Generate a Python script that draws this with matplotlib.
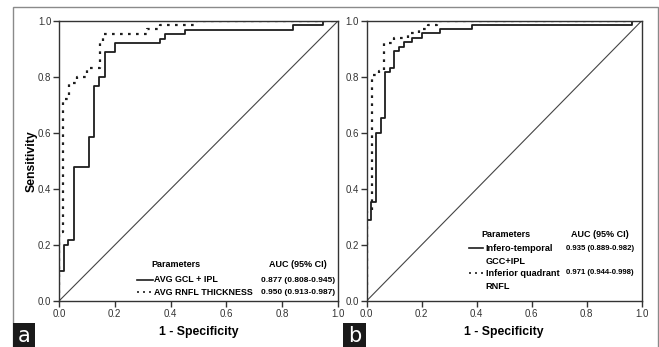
import matplotlib.pyplot as plt
from matplotlib.lines import Line2D
from matplotlib.patches import Rectangle

plt.rcParams['font.family'] = ['Liberation Sans Narrow', 'Liberation Sans', 'DejaVu Sans']

# ROC corner points (x where the step rises, y at the top of the rise)
a_gcl_x = [0, 0, 0.019, 0.033, 0.054, 0.109, 0.127, 0.144, 0.165, 0.2, 0.362, 0.38, 0.452, 0.84, 0.946, 1.0]
a_gcl_y = [0, 0.108, 0.2, 0.218, 0.48, 0.585, 0.768, 0.80, 0.89, 0.923, 0.935, 0.952, 0.968, 0.985, 1.0, 1.0]
a_rnfl_x = [0, 0, 0.016, 0.037, 0.065, 0.099, 0.147, 0.159, 0.314, 0.362, 0.49, 1.0]
a_rnfl_y = [0, 0.248, 0.72, 0.778, 0.80, 0.831, 0.926, 0.955, 0.97, 0.986, 1.0, 1.0]

b_gcc_x = [0, 0, 0.018, 0.035, 0.053, 0.068, 0.086, 0.1, 0.117, 0.135, 0.167, 0.201, 0.268, 0.383, 0.965, 1.0]
b_gcc_y = [0, 0.29, 0.355, 0.601, 0.652, 0.819, 0.833, 0.893, 0.908, 0.924, 0.94, 0.956, 0.97, 0.986, 1.0, 1.0]
b_rnfl_x = [0, 0, 0.02, 0.045, 0.064, 0.1, 0.15, 0.19, 0.225, 0.256, 1.0]
b_rnfl_y = [0, 0.32, 0.807, 0.822, 0.922, 0.938, 0.956, 0.97, 0.986, 1.0, 1.0]

ticks = [0.0, 0.2, 0.4, 0.6, 0.8, 1.0]
tick_labels = ['0.0', '0.2', '0.4', '0.6', '0.8', '1.0']

a_names = ['AVG GCL + IPL', 'AVG RNFL THICKNESS']
a_auc = ['0.877 (0.808-0.945)', '0.950 (0.913-0.987)']
b_names = [('Infero-temporal', 'GCC+IPL'), ('Inferior quadrant', 'RNFL')]
b_auc = ['0.935 (0.889-0.982)', '0.971 (0.944-0.998)']

W, H = 659, 347
LINE = '#1e1e1e'
DOT = (0, (1.2, 2.4))

fig = plt.figure(figsize=(W / 100, H / 100), dpi=100)

# outer frame
fig.add_artist(Rectangle((13 / W, -0.1), (658 - 13) / W, (H - 7) / H + 0.1,
                         transform=fig.transFigure, fill=False, ec='#8a8a8a', lw=1))


def setup(ax):
    ax.set_xlim(0, 1)
    ax.set_ylim(0, 1)
    ax.set_xticks(ticks, tick_labels)
    ax.set_yticks(ticks, tick_labels)
    ax.tick_params(direction='out', length=4, width=1, pad=1.5, labelsize=7,
                   colors='#333333')
    for s in ax.spines.values():
        s.set_color('#333333')
        s.set_linewidth(1)
    ax.plot([0, 1], [0, 1], color='#444444', lw=0.8)
    ax.set_xlabel('1 - Specificity', fontsize=8.8, fontweight='bold', labelpad=5)


ax_a = fig.add_axes([59 / W, (H - 301) / H, 279 / W, 280 / H])
setup(ax_a)
ax_a.set_ylabel('Sensitivity', fontsize=8.8, fontweight='bold', labelpad=0.5)
ax_a.plot(a_gcl_x, a_gcl_y, drawstyle='steps-post', color=LINE, lw=1.3)
ax_a.plot(a_rnfl_x, a_rnfl_y, drawstyle='steps-post', color=LINE, lw=1.6, ls=DOT)

ax_b = fig.add_axes([366.5 / W, (H - 301) / H, 275 / W, 280 / H])
setup(ax_b)
ax_b.plot(b_gcc_x, b_gcc_y, drawstyle='steps-post', color=LINE, lw=1.3)
ax_b.plot(b_rnfl_x, b_rnfl_y, drawstyle='steps-post', color=LINE, lw=1.6, ls=DOT)

# legend, panel a
ax_a.text(0.42, 0.129, 'Parameters', fontsize=6.5, fontweight='bold', ha='center', va='center')
ax_a.text(0.855, 0.129, 'AUC (95% CI)', fontsize=6.5, fontweight='bold', ha='center', va='center')
for i, (nm, auc) in enumerate(zip(a_names, a_auc)):
    yy = 0.075 - i * 0.043
    ax_a.add_line(Line2D([0.28, 0.338], [yy, yy], transform=ax_a.transAxes, color=LINE,
                         lw=1.2, ls='-' if i == 0 else DOT))
    ax_a.text(0.342, yy, nm, fontsize=6.4, fontweight='bold', ha='left', va='center')
    ax_a.text(0.725, yy, auc, fontsize=6.0, fontweight='bold', ha='left', va='center')

# legend, panel b
ax_b.text(0.507, 0.236, 'Parameters', fontsize=6.5, fontweight='bold', ha='center', va='center')
ax_b.text(0.85, 0.236, 'AUC (95% CI)', fontsize=6.5, fontweight='bold', ha='center', va='center')
for i, ((l1, l2), auc) in enumerate(zip(b_names, b_auc)):
    yy = 0.189 - i * 0.089
    ax_b.add_line(Line2D([0.373, 0.424], [yy, yy], transform=ax_b.transAxes, color=LINE,
                         lw=1.2, ls='-' if i == 0 else DOT))
    ax_b.text(0.434, yy, l1, fontsize=6.6, fontweight='bold', ha='left', va='center')
    ax_b.text(0.434, yy - 0.047, l2, fontsize=6.6, fontweight='bold', ha='left', va='center')
    ax_b.text(0.725, yy, auc, fontsize=5.6, fontweight='bold', ha='left', va='center')

# panel letters
for lbl, x0, x1 in [('a', 13, 35), ('b', 343, 366)]:
    fig.add_artist(Rectangle((x0 / W, 0), (x1 - x0) / W, 24 / H, transform=fig.transFigure,
                             fc='#1a1a1a', ec='none'))
    fig.text((x0 + x1) / 2 / W, 11 / H, lbl, color='white', fontsize=15,
             ha='center', va='center', family='DejaVu Sans')

fig.savefig('out.png', dpi=100)
